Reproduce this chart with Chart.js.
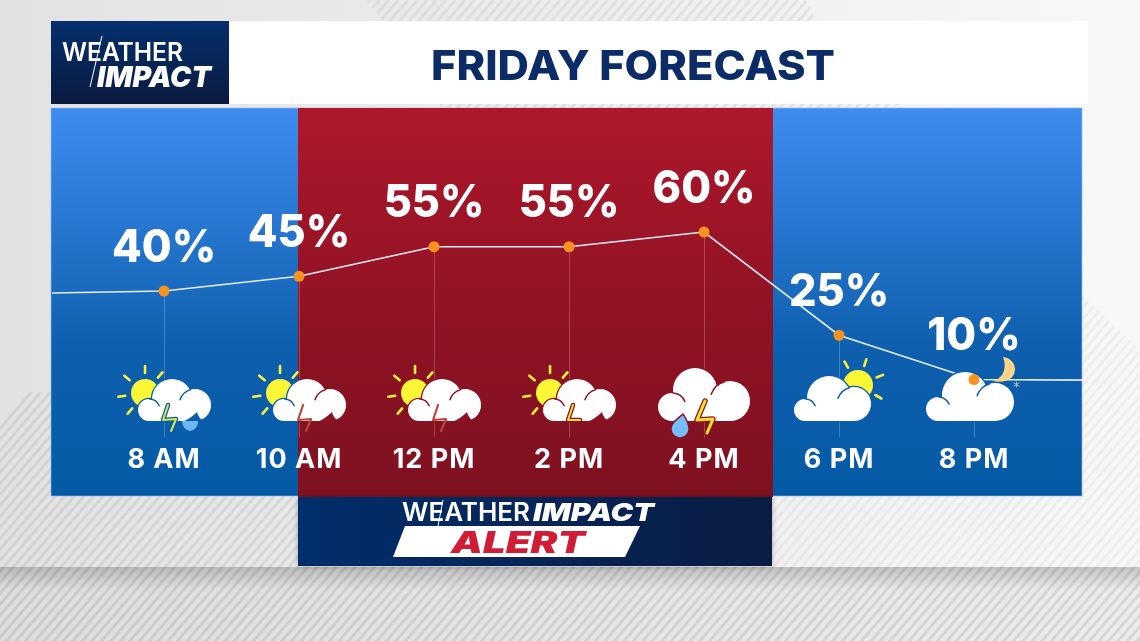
<!DOCTYPE html>
<html>
<head>
<meta charset="utf-8">
<title>Friday Forecast</title>
<script src="https://cdn.jsdelivr.net/npm/chart.js@4/dist/chart.umd.min.js"></script>
<style>
  html, body { margin: 0; padding: 0; background: #e6e6e6; }
  canvas { display: block; }
</style>
</head>
<body>
<canvas id="chart" width="1140" height="641"></canvas>
<script>
// values
const hours = [8, 10, 12, 14, 16, 18, 20];
const tickLabels = ["8 AM", "10 AM", "12 PM", "2 PM", "4 PM", "6 PM", "8 PM"];
const chances = [40, 45, 55, 55, 60, 25, 10];
const chanceLabels = ["40%", "45%", "55%", "55%", "60%", "25%", "10%"];
const lineStart = [6.34, 39.3];
const lineEnd = [21.65, 9.8];
const icons = ["stormDropSmall", "storm", "storm", "stormYellow", "stormBig", "partly", "night"];

const FONT = "Inter, 'Noto Sans', sans-serif";
const BLUE_AT_ICONS = "#0b5dac";
const RED_AT_ICONS = "#8c1223";

// stretches text to an exact width, the broadcast fonts are wider than Inter
function fitText(ctx, text, x, baseline, width) {
  const w = ctx.measureText(text).width;
  ctx.save();
  ctx.translate(x, baseline);
  ctx.scale(width / w, 1);
  ctx.textAlign = "left";
  ctx.textBaseline = "alphabetic";
  ctx.fillText(text, 0, 0);
  ctx.restore();
}

function poly(ctx, pts) {
  ctx.beginPath();
  pts.forEach((p, i) => (i ? ctx.lineTo(p[0], p[1]) : ctx.moveTo(p[0], p[1])));
  ctx.closePath();
}

function hatch(ctx, pts, color) {
  ctx.save();
  poly(ctx, pts);
  ctx.clip();
  ctx.strokeStyle = color;
  ctx.lineWidth = 3;
  ctx.beginPath();
  for (let x = -200; x < 1400; x += 9.5) {
    ctx.moveTo(x, 660);
    ctx.lineTo(x + 570, 0);
  }
  ctx.stroke();
  ctx.restore();
}

function vGrad(ctx, y0, y1, stops) {
  const g = ctx.createLinearGradient(0, y0, 0, y1);
  stops.forEach((s) => g.addColorStop(s[0], s[1]));
  return g;
}

function hGrad(ctx, x0, x1, a, b) {
  const g = ctx.createLinearGradient(x0, 0, x1, 0);
  g.addColorStop(0, a);
  g.addColorStop(1, b);
  return g;
}

function drawBackdrop(ctx) {
  ctx.fillStyle = hGrad(ctx, 0, 1140, "#e2e2e2", "#f8f8f8");
  ctx.fillRect(0, 0, 1140, 641);
  hatch(ctx, [[366, 0], [806, 0], [818, 24], [386, 24]], "rgba(0,0,0,0.055)");
  hatch(ctx, [[440, 104], [900, 104], [890, 108], [440, 108]], "rgba(0,0,0,0.05)");
  hatch(ctx, [[0, 392], [298, 392], [298, 567], [0, 567]], "rgba(0,0,0,0.065)");
  hatch(ctx, [[772, 496], [1082, 496], [1082, 296], [1140, 350], [1140, 567], [772, 567]], "rgba(0,0,0,0.04)");

  // floor strip along the bottom
  ctx.fillStyle = hGrad(ctx, 0, 1140, "#dedede", "#ececec");
  ctx.fillRect(0, 567, 1140, 74);
  hatch(ctx, [[0, 567], [1140, 567], [1140, 641], [0, 641]], "rgba(0,0,0,0.085)");
  ctx.fillStyle = vGrad(ctx, 567, 590, [[0, "rgba(0,0,0,0.17)"], [1, "rgba(0,0,0,0)"]]);
  ctx.fillRect(0, 567, 1140, 23);

  // blue panel, red alert window, navy banner
  ctx.fillStyle = vGrad(ctx, 108, 496, [[0, "#3f8cf0"], [0.62, "#0e5fae"], [1, "#045aa5"]]);
  ctx.fillRect(51, 108, 1031, 388);
  ctx.strokeStyle = "rgba(150,190,240,0.6)";
  ctx.lineWidth = 1;
  ctx.strokeRect(51, 108, 1031, 388);
  ctx.fillStyle = vGrad(ctx, 108, 496, [[0, "#ae172b"], [0.58, "#8d1224"], [1, "#7f1120"]]);
  ctx.fillRect(298, 108, 475, 389);
  ctx.save();
  ctx.shadowColor = "rgba(0,0,0,0.3)";
  ctx.shadowBlur = 5;
  ctx.fillStyle = hGrad(ctx, 298, 772, "#012e6c", "#0a1c42");
  ctx.fillRect(298, 497, 474, 69);
  ctx.restore();

  // header
  ctx.fillStyle = "#ffffff";
  ctx.fillRect(229, 21, 859, 83);
  ctx.fillStyle = vGrad(ctx, 21, 104, [[0, "#04306d"], [1, "#0b1a3f"]]);
  ctx.fillRect(51, 21, 178, 83);
  ctx.fillStyle = "#0b2c66";
  ctx.font = "800 41px " + FONT;
  fitText(ctx, "FRIDAY FORECAST", 431, 80, 404);

  ctx.fillStyle = "#ffffff";
  ctx.font = "600 26px " + FONT;
  fitText(ctx, "WEATHER", 62, 61, 121);
  ctx.font = "italic 900 28px " + FONT;
  fitText(ctx, "IMPACT", 97, 87, 114);
  ctx.strokeStyle = "#ffffff";
  ctx.lineWidth = 1;
  ctx.beginPath();
  ctx.moveTo(102, 36);
  ctx.lineTo(90, 87);
  ctx.stroke();

  // alert banner logo
  ctx.font = "600 25px " + FONT;
  fitText(ctx, "WEATHER", 402, 521, 128);
  ctx.font = "italic 900 25px " + FONT;
  fitText(ctx, "IMPACT", 533, 521, 121);
  ctx.beginPath();
  ctx.moveTo(443, 500);
  ctx.lineTo(438, 526);
  ctx.stroke();
  ctx.fillStyle = "#ffffff";
  poly(ctx, [[405, 526], [640, 526], [625, 557], [393, 557]]);
  ctx.fill();
  ctx.fillStyle = "#d01c34";
  ctx.font = "italic 900 30px " + FONT;
  fitText(ctx, "ALERT", 451, 553, 134);
}

function sun(ctx, cx, cy, r, angles, inner, outer) {
  ctx.strokeStyle = "#fbf03a";
  ctx.lineWidth = 2.6;
  ctx.lineCap = "round";
  ctx.beginPath();
  angles.forEach((deg) => {
    const a = deg * Math.PI / 180;
    ctx.moveTo(cx + Math.cos(a) * inner, cy + Math.sin(a) * inner);
    ctx.lineTo(cx + Math.cos(a) * outer, cy + Math.sin(a) * outer);
  });
  ctx.stroke();
  ctx.fillStyle = "#fbf636";
  ctx.beginPath();
  ctx.arc(cx, cy, r, 0, Math.PI * 2);
  ctx.fill();
}

// lobes: left, middle, right as [x, y, r] relative to the icon base
function cloud(ctx, x, y, lobes, bg) {
  const [l, , r] = lobes;
  const shape = () => {
    ctx.beginPath();
    lobes.forEach((c) => {
      ctx.moveTo(x + c[0] + c[2], y + c[1]);
      ctx.arc(x + c[0], y + c[1], c[2], 0, Math.PI * 2);
    });
    ctx.rect(x + l[0], y + Math.min(l[1], r[1]), r[0] - l[0], -Math.min(l[1], r[1]));
  };
  shape();
  ctx.strokeStyle = bg;
  ctx.lineWidth = 2.5;
  ctx.stroke();
  shape();
  ctx.fillStyle = "#ffffff";
  ctx.fill();
  ctx.strokeStyle = bg;
  ctx.lineWidth = 1.5;
  ctx.lineCap = "round";
  ctx.beginPath();
  ctx.arc(x + l[0], y + l[1], l[2], -1.5, -0.4);
  ctx.stroke();
  ctx.beginPath();
  ctx.arc(x + r[0], y + r[1], r[2], -2.8, -1.85);
  ctx.stroke();
}

function bolt(ctx, x, y, pts, color, bg, width) {
  const path = () => {
    ctx.beginPath();
    pts.forEach((p, i) => (i ? ctx.lineTo(x + p[0], y + p[1]) : ctx.moveTo(x + p[0], y + p[1])));
  };
  ctx.lineJoin = "round";
  ctx.lineCap = "round";
  if (bg) {
    path();
    ctx.strokeStyle = bg;
    ctx.lineWidth = width + 2.5;
    ctx.stroke();
  }
  path();
  ctx.strokeStyle = color;
  ctx.lineWidth = width;
  ctx.stroke();
}

function notch(ctx, x, y, bg) {
  ctx.fillStyle = bg;
  ctx.beginPath();
  ctx.moveTo(x + 18, y + 1);
  ctx.quadraticCurveTo(x + 26, y - 2, x + 33, y - 9);
  ctx.quadraticCurveTo(x + 34, y - 3, x + 41, y + 1);
  ctx.closePath();
  ctx.fill();
}

const SMALL_LOBES = [[-15, -11, 11], [8, -22, 20], [31, -16, 16]];
const SMALL_BOLT = [[4, -16], [-1, -1], [12, -2], [7, 10]];
const SUN_ANGLES = [-90, -50, -140, 172, 130];

function drawIcon(ctx, kind, x, y, bg) {
  if (kind === "partly") {
    sun(ctx, x + 19, y - 36, 15, [-120, -72, -22, 30], 20, 27);
    cloud(ctx, x, y, [[-34, -11, 11], [-10, -23, 22], [15, -17, 17]], bg);
  } else if (kind === "night") {
    ctx.fillStyle = "#fbd48a";
    ctx.beginPath();
    ctx.moveTo(x + 29, y - 64);
    ctx.bezierCurveTo(x + 47, y - 62, x + 46, y - 34, x + 18, y - 40);
    ctx.bezierCurveTo(x + 30, y - 42, x + 33, y - 54, x + 29, y - 64);
    ctx.fill();
    cloud(ctx, x, y, [[-36, -12, 12], [-9, -26, 23], [21, -19, 19]], bg);
    ctx.strokeStyle = "rgba(190,200,215,0.9)";
    ctx.lineWidth = 1;
    ctx.beginPath();
    ctx.moveTo(x + 40, y - 38);
    ctx.lineTo(x + 45, y - 35);
    ctx.moveTo(x + 45, y - 38);
    ctx.lineTo(x + 40, y - 35);
    ctx.moveTo(x + 42.5, y - 39);
    ctx.lineTo(x + 42.5, y - 34);
    ctx.stroke();
  } else if (kind === "stormBig") {
    cloud(ctx, x, y, [[-32, -14, 14], [-9, -31, 22], [26, -20, 20]], bg);
    ctx.strokeStyle = bg;
    ctx.fillStyle = "#76bfff";
    ctx.lineWidth = 1.5;
    ctx.beginPath();
    ctx.moveTo(x - 21, y - 7);
    ctx.bezierCurveTo(x - 27, y - 2, x - 33, y + 2, x - 33, y + 8);
    ctx.arc(x - 24, y + 8, 9, Math.PI, 0, true);
    ctx.bezierCurveTo(x - 15, y + 2, x - 18, y - 2, x - 21, y - 7);
    ctx.closePath();
    ctx.fill();
    ctx.stroke();
    bolt(ctx, x, y, [[1, -20], [-7, -1], [9, -2], [3, 12]], "#f5e02e", bg, 3);
  } else {
    sun(ctx, x - 19, y - 28, 14, SUN_ANGLES, 20, 27);
    cloud(ctx, x, y, SMALL_LOBES, bg);
    notch(ctx, x, y, bg);
    if (kind === "stormDropSmall") {
      bolt(ctx, x, y, SMALL_BOLT, "#d6e84c", bg, 2);
      ctx.fillStyle = "#6db8f5";
      ctx.beginPath();
      ctx.ellipse(x + 26, y, 8, 10, 0, 0, Math.PI);
      ctx.fill();
    } else if (kind === "stormYellow") {
      bolt(ctx, x, y, [[4, -16], [-1, -1], [11, -1]], "#f5e02e", bg, 2);
    } else {
      bolt(ctx, x, y, SMALL_BOLT, "#b5473a", null, 2.2);
    }
  }
}

const panelPlugin = {
  id: "panels",
  beforeDraw(chart) {
    drawBackdrop(chart.ctx);
    // the tick labels run a bit wider than Inter
    chart.ctx.letterSpacing = "1px";
  },
  beforeDatasetsDraw(chart) {
    // thin stems from each point down to the icon row
    const { ctx, chartArea } = chart;
    ctx.letterSpacing = "0px";
    const points = chart.getDatasetMeta(1).data;
    ctx.save();
    ctx.strokeStyle = "rgba(255,255,255,0.22)";
    ctx.lineWidth = 1;
    ctx.beginPath();
    points.forEach((p) => {
      ctx.moveTo(Math.round(p.x) + 0.5, p.y);
      ctx.lineTo(Math.round(p.x) + 0.5, chartArea.bottom - 1);
    });
    ctx.stroke();
    ctx.restore();
  },
  afterDatasetDraw(chart, args) {
    // icons go over the line but under the orange dots
    if (args.index !== 0) return;
    const { ctx } = chart;
    const xScale = chart.scales.x;
    const bands = [[0, 298, BLUE_AT_ICONS], [298, 773, RED_AT_ICONS], [773, 1140, BLUE_AT_ICONS]];
    bands.forEach((b) => {
      ctx.save();
      ctx.beginPath();
      ctx.rect(b[0], 340, b[1] - b[0], 110);
      ctx.clip();
      icons.forEach((kind, i) => {
        drawIcon(ctx, kind, xScale.getPixelForValue(hours[i]), 421, b[2]);
      });
      ctx.restore();
    });
  },
  afterDatasetsDraw(chart) {
    const { ctx } = chart;
    const points = chart.getDatasetMeta(1).data;
    ctx.save();
    ctx.fillStyle = "#ffffff";
    ctx.font = "800 45px " + FONT;
    ctx.textAlign = "center";
    ctx.textBaseline = "middle";
    points.forEach((p, i) => {
      ctx.save();
      ctx.translate(p.x, p.y - 43);
      ctx.scale(0.96, 1);
      ctx.fillText(chanceLabels[i], 0, 0);
      ctx.restore();
    });
    ctx.restore();
  },
};

new Chart(document.getElementById("chart"), {
  type: "line",
  data: {
    datasets: [
      {
        data: [lineStart]
          .concat(hours.map((h, i) => [h, chances[i]]))
          .concat([lineEnd])
          .map((p) => ({ x: p[0], y: p[1] })),
        borderColor: "#e6eef7",
        borderWidth: 1.6,
        pointRadius: 0,
        tension: 0,
        clip: false,
        order: 2,
      },
      {
        data: hours.map((h, i) => ({ x: h, y: chances[i] })),
        showLine: false,
        pointRadius: 5.5,
        pointBackgroundColor: "#f7931e",
        pointBorderWidth: 0,
        order: 1,
      },
    ],
  },
  options: {
    responsive: false,
    animation: false,
    devicePixelRatio: 1,
    layout: { padding: { left: 52, right: 58, top: 114, bottom: 142.5 } },
    plugins: {
      legend: { display: false },
      tooltip: { enabled: false },
    },
    scales: {
      x: {
        type: "linear",
        min: lineStart[0],
        max: 21.6,
        grid: { display: false },
        border: { display: false },
        afterFit: (scale) => {
          scale.height = 60;
        },
        afterBuildTicks: (scale) => {
          scale.ticks = hours.map((h) => ({ value: h }));
        },
        ticks: {
          autoSkip: false,
          maxRotation: 0,
          padding: -3,
          color: "#ffffff",
          font: { family: "Inter", size: 27, weight: "700" },
          callback: (value, index) => tickLabels[index],
        },
      },
      y: { display: false, min: -10, max: 100 },
    },
  },
  plugins: [panelPlugin],
});
</script>
</body>
</html>
